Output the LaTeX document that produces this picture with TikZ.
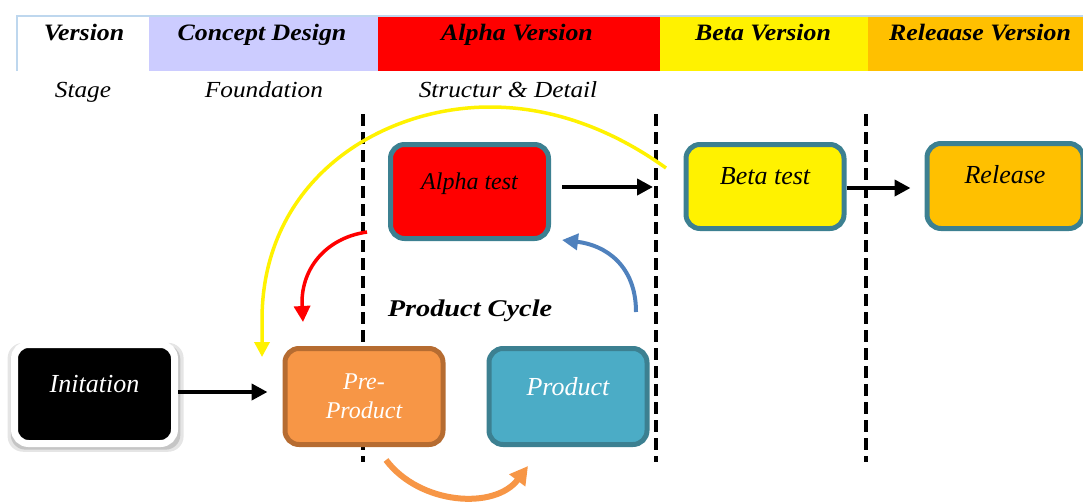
\documentclass[tikz,border=0pt]{standalone}
\usepackage{fontspec}
\setmainfont{Liberation Serif}
\newfontfamily\hdfont{Liberation Serif}[FakeStretch=1.1]
\newfontfamily\pcfont{Liberation Serif}[FakeStretch=1.18]
\usetikzlibrary{arrows.meta,shadows}
\definecolor{tealb}{RGB}{60,128,145}
\definecolor{lav}{RGB}{204,204,255}
\definecolor{relorange}{RGB}{255,192,0}
\definecolor{preorange}{RGB}{247,150,70}
\definecolor{prebrown}{RGB}{182,108,49}
\definecolor{prodblue}{RGB}{75,172,198}
\definecolor{arrblue}{RGB}{79,129,189}
\definecolor{hdline}{RGB}{190,215,238}
\tikzset{
  hdtext/.style={anchor=base, font=\hdfont\bfseries\itshape\fontsize{23.5}{28}\selectfont},
  subtext/.style={anchor=base, font=\hdfont\itshape\fontsize{23}{27}\selectfont},
  stagebox/.style={rounded corners=14pt, line width=5pt, draw=tealb, minimum width=158pt, inner sep=0pt},
  dashln/.style={line width=4pt, dash pattern=on 12pt off 6pt},
  blkarrow/.style={line width=4pt, -{Triangle[length=16pt,width=16pt]}},
}
\begin{document}
\begin{tikzpicture}[x=1pt,y=-1pt]
\useasboundingbox (0,0) rectangle (1083,501);
% header
\fill[white] (17,16) rectangle (149,71);
\fill[lav] (149,16) rectangle (378,71);
\fill[red] (378,16) rectangle (660,71);
\fill[yellow] (660,16) rectangle (868,71);
\fill[relorange] (868,16) rectangle (1083,71);
\draw[hdline, line width=2pt] (17,71) -- (17,16) -- (1083,16);
\node[hdtext] (hv) at (84,40) {Version};
\node[hdtext] (hc) at (262,40) {Concept Design};
\node[hdtext] (ha) at (517,40) {Alpha Version};
\node[hdtext] (hb) at (763,40) {Beta Version};
\node[hdtext] (hr) at (980,40) {Releaase Version};
\node[subtext] (ss) at (83,97) {Stage};
\node[subtext] (sf) at (264,97) {Foundation};
\node[subtext] (sd) at (508,97) {Structur \& Detail};
% dashed separators
\coordinate (d1t) at (363,114); \coordinate (d1b) at (363,462);
\coordinate (d2t) at (656,114); \coordinate (d2b) at (656,462);
\coordinate (d3t) at (866,114); \coordinate (d3b) at (866,462);
\draw[dashln] (d1t) -- (d1b);
\draw[dashln] (d2t) -- (d2b);
\draw[dashln] (d3t) -- (d3b);
% boxes
\node[stagebox, fill=red, minimum height=94pt, text height=18pt, text depth=23pt,
  font=\itshape\fontsize{24}{28}\selectfont] (alpha) at (469.5,191.5) {Alpha test};
\node[stagebox, fill=yellow, minimum height=84pt, text height=18pt, text depth=23pt,
  font=\itshape\fontsize{26}{30}\selectfont] (beta) at (765,186.5) {Beta test};
\node[stagebox, fill=relorange, minimum width=156pt, minimum height=85pt, text height=18pt, text depth=24pt,
  font=\itshape\fontsize{26}{30}\selectfont] (release) at (1005,186) {Release};
\node[rounded corners=14pt, line width=7pt, draw=white, fill=black, text=white,
  minimum width=160pt, minimum height=99pt, inner sep=0pt, text height=18pt, text depth=22pt,
  general shadow={fill=black, opacity=0.10, shadow scale=1.1, shadow yshift=-3pt, shadow xshift=1pt},
  general shadow={fill=black, opacity=0.14, shadow scale=1.06, shadow yshift=-3pt, shadow xshift=1pt},
  font=\itshape\fontsize{26}{30}\selectfont] (init) at (94.5,394) {Initation};
\node[stagebox, draw=prebrown, fill=preorange, text=white, minimum height=96pt, align=center,
  font=\itshape\fontsize{24}{29}\selectfont] (pre) at (364,396.5) {Pre-\\Product};
\node[stagebox, fill=prodblue, text=white, minimum height=96pt, text height=18pt, text depth=21pt,
  font=\itshape\fontsize{26}{30}\selectfont] (prod) at (568,396.5) {Product};
\node[anchor=base, font=\pcfont\bfseries\itshape\fontsize{24}{28}\selectfont] (pc) at (470,316) {Product Cycle};
% straight arrows
\coordinate (a2) at (653,187);
\draw[blkarrow, shorten >=15pt] ([yshift=2pt]init.east) -- ([yshift=4.5pt]pre.west);
\draw[blkarrow, shorten <=11pt] ([yshift=4.5pt]alpha.east) -- (a2);
\draw[blkarrow, shorten >=14pt] ([yshift=-1.5pt]beta.east) -- ([yshift=-2pt]release.west);
% curved arrows
\coordinate (r1) at (367,232); \coordinate (r2) at (303,322);
\draw[red, line width=3.5pt, -{Triangle[length=16pt,width=16pt]}]
  (r1) .. controls (325,238) and (300,270) .. (r2);
\coordinate (b1) at (636,312); \coordinate (b2) at (562,240);
\draw[arrblue, line width=4pt, -{Triangle[length=16pt,width=16pt]}]
  (b1) .. controls (636,265) and (605,245) .. (b2);
\coordinate (o1) at (386,460); \coordinate (o2) at (528,466);
\draw[preorange, line width=6pt, -{Triangle[length=18pt,width=19pt]}]
  (o1) .. controls (420,505) and (495,510) .. (o2);
\coordinate (y1) at (666,168); \coordinate (ytop) at (490,107); \coordinate (y2) at (262,357);
\draw[yellow, line width=3.5pt, -{Triangle[length=15pt,width=15pt]}]
  (y1) .. controls (620,135) and (560,107) .. (ytop)
  .. controls (380,107) and (262,180) .. (262,320) -- (y2);
\end{tikzpicture}
\end{document}
